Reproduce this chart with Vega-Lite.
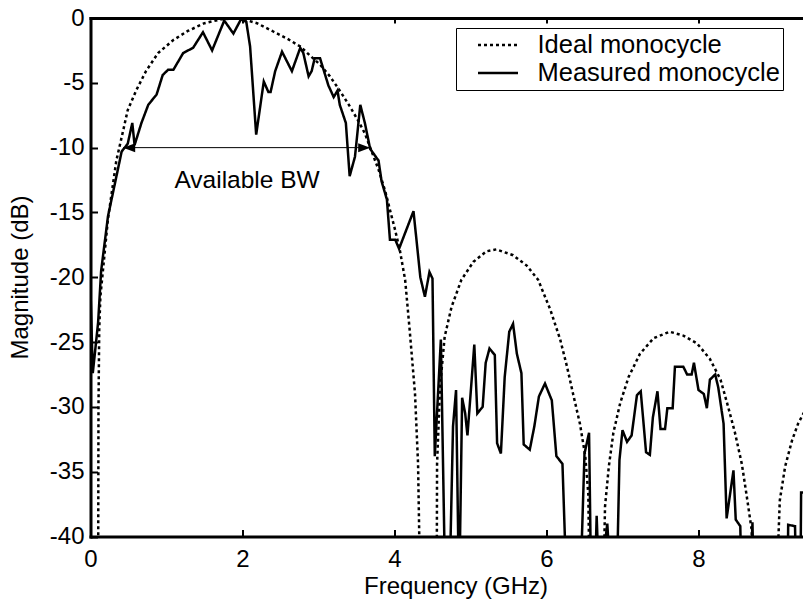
{
  "$schema": "https://vega.github.io/schema/vega-lite/v6.json",
  "autosize": "none",
  "width": 712.5,
  "height": 518.5,
  "padding": {"left": 90.5, "top": 18, "right": 0, "bottom": 65.5},
  "background": "white",
  "config": {
    "font": "Liberation Sans",
    "view": {"stroke": null},
    "axis": {
      "domainColor": "black", "domainWidth": 3, "domainCap": "square",
      "tickColor": "black", "tickWidth": 2, "tickSize": -7,
      "labelFontSize": 24, "labelColor": "black", "labelFont": "Liberation Sans",
      "titleFontSize": 24, "titleFontWeight": "normal", "titleColor": "black", "titleFont": "Liberation Sans",
      "grid": false, "labelFlush": false, "labelOverlap": false
    },
    "axisY": {"labelPadding": 13.5, "titleX": -70, "titleY": 259, "titleBaseline": "middle"},
    "legend": {
      "labelFontSize": 25.5, "labelColor": "black", "labelFont": "Liberation Sans", "labelLimit": 0
    }
  },
  "layer": [
    {
      "data": {"values": [
        {"series": "Measured monocycle", "f": 0.00, "db": -21},
        {"series": "Measured monocycle", "f": 0.03, "db": -27.4},
        {"series": "Measured monocycle", "f": 0.10, "db": -23.5},
        {"series": "Measured monocycle", "f": 0.14, "db": -19.5},
        {"series": "Measured monocycle", "f": 0.23, "db": -15.3},
        {"series": "Measured monocycle", "f": 0.32, "db": -12.8},
        {"series": "Measured monocycle", "f": 0.41, "db": -10.3},
        {"series": "Measured monocycle", "f": 0.49, "db": -9.7},
        {"series": "Measured monocycle", "f": 0.55, "db": -8.1},
        {"series": "Measured monocycle", "f": 0.58, "db": -9.8},
        {"series": "Measured monocycle", "f": 0.67, "db": -8.1},
        {"series": "Measured monocycle", "f": 0.76, "db": -6.7},
        {"series": "Measured monocycle", "f": 0.87, "db": -5.9},
        {"series": "Measured monocycle", "f": 0.95, "db": -4.4},
        {"series": "Measured monocycle", "f": 1.02, "db": -4.0},
        {"series": "Measured monocycle", "f": 1.09, "db": -4.0},
        {"series": "Measured monocycle", "f": 1.22, "db": -2.7},
        {"series": "Measured monocycle", "f": 1.35, "db": -2.3},
        {"series": "Measured monocycle", "f": 1.48, "db": -1.1},
        {"series": "Measured monocycle", "f": 1.60, "db": -2.5},
        {"series": "Measured monocycle", "f": 1.76, "db": -0.2},
        {"series": "Measured monocycle", "f": 1.88, "db": -1.2},
        {"series": "Measured monocycle", "f": 1.98, "db": -0.1},
        {"series": "Measured monocycle", "f": 2.05, "db": -0.3},
        {"series": "Measured monocycle", "f": 2.10, "db": -2.2},
        {"series": "Measured monocycle", "f": 2.18, "db": -9.0},
        {"series": "Measured monocycle", "f": 2.28, "db": -4.9},
        {"series": "Measured monocycle", "f": 2.34, "db": -5.7},
        {"series": "Measured monocycle", "f": 2.37, "db": -5.7},
        {"series": "Measured monocycle", "f": 2.43, "db": -4.1},
        {"series": "Measured monocycle", "f": 2.52, "db": -2.6},
        {"series": "Measured monocycle", "f": 2.65, "db": -4.1},
        {"series": "Measured monocycle", "f": 2.76, "db": -2.3},
        {"series": "Measured monocycle", "f": 2.80, "db": -2.7},
        {"series": "Measured monocycle", "f": 2.87, "db": -4.5},
        {"series": "Measured monocycle", "f": 2.91, "db": -4.1},
        {"series": "Measured monocycle", "f": 2.95, "db": -3.1},
        {"series": "Measured monocycle", "f": 3.02, "db": -3.1},
        {"series": "Measured monocycle", "f": 3.13, "db": -5.2},
        {"series": "Measured monocycle", "f": 3.20, "db": -6.1},
        {"series": "Measured monocycle", "f": 3.25, "db": -5.6},
        {"series": "Measured monocycle", "f": 3.28, "db": -6.7},
        {"series": "Measured monocycle", "f": 3.36, "db": -8.1},
        {"series": "Measured monocycle", "f": 3.41, "db": -12.2},
        {"series": "Measured monocycle", "f": 3.48, "db": -10.7},
        {"series": "Measured monocycle", "f": 3.55, "db": -6.7},
        {"series": "Measured monocycle", "f": 3.61, "db": -8.1},
        {"series": "Measured monocycle", "f": 3.68, "db": -10.1},
        {"series": "Measured monocycle", "f": 3.79, "db": -11.0},
        {"series": "Measured monocycle", "f": 3.83, "db": -12.6},
        {"series": "Measured monocycle", "f": 3.90, "db": -14.0},
        {"series": "Measured monocycle", "f": 3.94, "db": -17.1},
        {"series": "Measured monocycle", "f": 4.01, "db": -17.1},
        {"series": "Measured monocycle", "f": 4.06, "db": -17.8},
        {"series": "Measured monocycle", "f": 4.25, "db": -14.9},
        {"series": "Measured monocycle", "f": 4.34, "db": -20.0},
        {"series": "Measured monocycle", "f": 4.40, "db": -21.5},
        {"series": "Measured monocycle", "f": 4.46, "db": -19.6},
        {"series": "Measured monocycle", "f": 4.50, "db": -20.1},
        {"series": "Measured monocycle", "f": 4.53, "db": -33.8},
        {"series": "Measured monocycle", "f": 4.61, "db": -24.8},
        {"series": "Measured monocycle", "f": 4.67, "db": -45},
        {"series": "Measured monocycle", "f": 4.72, "db": -45},
        {"series": "Measured monocycle", "f": 4.77, "db": -31.5},
        {"series": "Measured monocycle", "f": 4.81, "db": -28.7},
        {"series": "Measured monocycle", "f": 4.85, "db": -45},
        {"series": "Measured monocycle", "f": 4.89, "db": -29.3},
        {"series": "Measured monocycle", "f": 4.93, "db": -30.5},
        {"series": "Measured monocycle", "f": 4.96, "db": -32.2},
        {"series": "Measured monocycle", "f": 5.05, "db": -25.2},
        {"series": "Measured monocycle", "f": 5.09, "db": -30.5},
        {"series": "Measured monocycle", "f": 5.16, "db": -30.0},
        {"series": "Measured monocycle", "f": 5.20, "db": -26.6},
        {"series": "Measured monocycle", "f": 5.25, "db": -25.5},
        {"series": "Measured monocycle", "f": 5.32, "db": -26.0},
        {"series": "Measured monocycle", "f": 5.35, "db": -32.8},
        {"series": "Measured monocycle", "f": 5.40, "db": -33.6},
        {"series": "Measured monocycle", "f": 5.45, "db": -27.7},
        {"series": "Measured monocycle", "f": 5.51, "db": -24.2},
        {"series": "Measured monocycle", "f": 5.56, "db": -23.6},
        {"series": "Measured monocycle", "f": 5.61, "db": -25.9},
        {"series": "Measured monocycle", "f": 5.67, "db": -27.4},
        {"series": "Measured monocycle", "f": 5.70, "db": -32.9},
        {"series": "Measured monocycle", "f": 5.78, "db": -33.3},
        {"series": "Measured monocycle", "f": 5.84, "db": -31.5},
        {"series": "Measured monocycle", "f": 5.90, "db": -29.2},
        {"series": "Measured monocycle", "f": 5.98, "db": -28.2},
        {"series": "Measured monocycle", "f": 6.07, "db": -29.5},
        {"series": "Measured monocycle", "f": 6.13, "db": -33.8},
        {"series": "Measured monocycle", "f": 6.21, "db": -34.4},
        {"series": "Measured monocycle", "f": 6.27, "db": -45},
        {"series": "Measured monocycle", "f": 6.44, "db": -45},
        {"series": "Measured monocycle", "f": 6.50, "db": -33.6},
        {"series": "Measured monocycle", "f": 6.56, "db": -32.0},
        {"series": "Measured monocycle", "f": 6.59, "db": -45},
        {"series": "Measured monocycle", "f": 6.63, "db": -45},
        {"series": "Measured monocycle", "f": 6.66, "db": -38.4},
        {"series": "Measured monocycle", "f": 6.70, "db": -45},
        {"series": "Measured monocycle", "f": 6.76, "db": -41},
        {"series": "Measured monocycle", "f": 6.80, "db": -39.0},
        {"series": "Measured monocycle", "f": 6.86, "db": -45},
        {"series": "Measured monocycle", "f": 6.92, "db": -45},
        {"series": "Measured monocycle", "f": 6.96, "db": -34.1},
        {"series": "Measured monocycle", "f": 7.00, "db": -31.8},
        {"series": "Measured monocycle", "f": 7.06, "db": -32.7},
        {"series": "Measured monocycle", "f": 7.12, "db": -32.2},
        {"series": "Measured monocycle", "f": 7.19, "db": -29.1},
        {"series": "Measured monocycle", "f": 7.24, "db": -28.8},
        {"series": "Measured monocycle", "f": 7.31, "db": -33.5},
        {"series": "Measured monocycle", "f": 7.36, "db": -33.7},
        {"series": "Measured monocycle", "f": 7.40, "db": -30.8},
        {"series": "Measured monocycle", "f": 7.46, "db": -28.8},
        {"series": "Measured monocycle", "f": 7.50, "db": -31.7},
        {"series": "Measured monocycle", "f": 7.56, "db": -31.7},
        {"series": "Measured monocycle", "f": 7.59, "db": -30.1},
        {"series": "Measured monocycle", "f": 7.66, "db": -30.1},
        {"series": "Measured monocycle", "f": 7.69, "db": -26.9},
        {"series": "Measured monocycle", "f": 7.80, "db": -26.9},
        {"series": "Measured monocycle", "f": 7.85, "db": -27.5},
        {"series": "Measured monocycle", "f": 7.91, "db": -27.5},
        {"series": "Measured monocycle", "f": 7.94, "db": -26.6},
        {"series": "Measured monocycle", "f": 8.00, "db": -28.7},
        {"series": "Measured monocycle", "f": 8.07, "db": -29.0},
        {"series": "Measured monocycle", "f": 8.11, "db": -30.1},
        {"series": "Measured monocycle", "f": 8.15, "db": -27.9},
        {"series": "Measured monocycle", "f": 8.22, "db": -27.5},
        {"series": "Measured monocycle", "f": 8.26, "db": -28.5},
        {"series": "Measured monocycle", "f": 8.33, "db": -31.3},
        {"series": "Measured monocycle", "f": 8.37, "db": -38.6},
        {"series": "Measured monocycle", "f": 8.46, "db": -34.9},
        {"series": "Measured monocycle", "f": 8.49, "db": -38.7},
        {"series": "Measured monocycle", "f": 8.55, "db": -39.2},
        {"series": "Measured monocycle", "f": 8.57, "db": -45},
        {"series": "Measured monocycle", "f": 8.68, "db": -45},
        {"series": "Measured monocycle", "f": 8.71, "db": -38.9},
        {"series": "Measured monocycle", "f": 8.73, "db": -45},
        {"series": "Measured monocycle", "f": 9.17, "db": -45},
        {"series": "Measured monocycle", "f": 9.18, "db": -39.1},
        {"series": "Measured monocycle", "f": 9.27, "db": -39.2},
        {"series": "Measured monocycle", "f": 9.29, "db": -45},
        {"series": "Measured monocycle", "f": 9.34, "db": -45},
        {"series": "Measured monocycle", "f": 9.35, "db": -36.6},
        {"series": "Measured monocycle", "f": 9.40, "db": -36.6},
        {"series": "Ideal monocycle", "f": 0.10, "db": -45},
        {"series": "Ideal monocycle", "f": 0.105, "db": -30},
        {"series": "Ideal monocycle", "f": 0.115, "db": -24},
        {"series": "Ideal monocycle", "f": 0.13, "db": -21.5},
        {"series": "Ideal monocycle", "f": 0.23, "db": -15.5},
        {"series": "Ideal monocycle", "f": 0.34, "db": -11.0},
        {"series": "Ideal monocycle", "f": 0.41, "db": -9.2},
        {"series": "Ideal monocycle", "f": 0.49, "db": -7.1},
        {"series": "Ideal monocycle", "f": 0.60, "db": -5.6},
        {"series": "Ideal monocycle", "f": 0.73, "db": -4.1},
        {"series": "Ideal monocycle", "f": 0.89, "db": -2.7},
        {"series": "Ideal monocycle", "f": 1.09, "db": -1.7},
        {"series": "Ideal monocycle", "f": 1.28, "db": -1.0},
        {"series": "Ideal monocycle", "f": 1.50, "db": -0.4},
        {"series": "Ideal monocycle", "f": 1.72, "db": -0.1},
        {"series": "Ideal monocycle", "f": 1.95, "db": 0},
        {"series": "Ideal monocycle", "f": 2.19, "db": -0.4},
        {"series": "Ideal monocycle", "f": 2.41, "db": -1.06},
        {"series": "Ideal monocycle", "f": 2.59, "db": -1.6},
        {"series": "Ideal monocycle", "f": 2.76, "db": -2.2},
        {"series": "Ideal monocycle", "f": 2.89, "db": -2.9},
        {"series": "Ideal monocycle", "f": 3.02, "db": -3.6},
        {"series": "Ideal monocycle", "f": 3.15, "db": -4.5},
        {"series": "Ideal monocycle", "f": 3.28, "db": -5.6},
        {"series": "Ideal monocycle", "f": 3.41, "db": -6.8},
        {"series": "Ideal monocycle", "f": 3.52, "db": -7.9},
        {"series": "Ideal monocycle", "f": 3.61, "db": -8.9},
        {"series": "Ideal monocycle", "f": 3.70, "db": -10.3},
        {"series": "Ideal monocycle", "f": 3.79, "db": -11.7},
        {"series": "Ideal monocycle", "f": 3.88, "db": -13.4},
        {"series": "Ideal monocycle", "f": 3.94, "db": -14.8},
        {"series": "Ideal monocycle", "f": 4.01, "db": -16.4},
        {"series": "Ideal monocycle", "f": 4.07, "db": -17.9},
        {"series": "Ideal monocycle", "f": 4.14, "db": -20.2},
        {"series": "Ideal monocycle", "f": 4.20, "db": -24.1},
        {"series": "Ideal monocycle", "f": 4.27, "db": -29.0},
        {"series": "Ideal monocycle", "f": 4.31, "db": -34.4},
        {"series": "Ideal monocycle", "f": 4.34, "db": -45},
        {"series": "Ideal monocycle", "f": 4.555, "db": -45},
        {"series": "Ideal monocycle", "f": 4.56, "db": -34.4},
        {"series": "Ideal monocycle", "f": 4.60, "db": -28.4},
        {"series": "Ideal monocycle", "f": 4.66, "db": -24.6},
        {"series": "Ideal monocycle", "f": 4.75, "db": -22.3},
        {"series": "Ideal monocycle", "f": 4.88, "db": -20.2},
        {"series": "Ideal monocycle", "f": 5.04, "db": -18.8},
        {"series": "Ideal monocycle", "f": 5.21, "db": -18.0},
        {"series": "Ideal monocycle", "f": 5.34, "db": -17.85},
        {"series": "Ideal monocycle", "f": 5.56, "db": -18.3},
        {"series": "Ideal monocycle", "f": 5.74, "db": -19.1},
        {"series": "Ideal monocycle", "f": 5.89, "db": -20.2},
        {"series": "Ideal monocycle", "f": 6.05, "db": -22.5},
        {"series": "Ideal monocycle", "f": 6.18, "db": -24.8},
        {"series": "Ideal monocycle", "f": 6.27, "db": -26.9},
        {"series": "Ideal monocycle", "f": 6.35, "db": -29.0},
        {"series": "Ideal monocycle", "f": 6.44, "db": -31.3},
        {"series": "Ideal monocycle", "f": 6.51, "db": -33.8},
        {"series": "Ideal monocycle", "f": 6.55, "db": -36.7},
        {"series": "Ideal monocycle", "f": 6.57, "db": -45},
        {"series": "Ideal monocycle", "f": 6.745, "db": -45},
        {"series": "Ideal monocycle", "f": 6.77, "db": -37.7},
        {"series": "Ideal monocycle", "f": 6.82, "db": -34.6},
        {"series": "Ideal monocycle", "f": 6.88, "db": -32.0},
        {"series": "Ideal monocycle", "f": 6.97, "db": -29.7},
        {"series": "Ideal monocycle", "f": 7.08, "db": -27.7},
        {"series": "Ideal monocycle", "f": 7.23, "db": -25.9},
        {"series": "Ideal monocycle", "f": 7.41, "db": -24.7},
        {"series": "Ideal monocycle", "f": 7.62, "db": -24.2},
        {"series": "Ideal monocycle", "f": 7.80, "db": -24.5},
        {"series": "Ideal monocycle", "f": 7.98, "db": -25.1},
        {"series": "Ideal monocycle", "f": 8.15, "db": -26.3},
        {"series": "Ideal monocycle", "f": 8.29, "db": -27.9},
        {"series": "Ideal monocycle", "f": 8.39, "db": -30.0},
        {"series": "Ideal monocycle", "f": 8.48, "db": -32.0},
        {"series": "Ideal monocycle", "f": 8.57, "db": -34.4},
        {"series": "Ideal monocycle", "f": 8.63, "db": -36.7},
        {"series": "Ideal monocycle", "f": 8.70, "db": -39.5},
        {"series": "Ideal monocycle", "f": 8.72, "db": -45},
        {"series": "Ideal monocycle", "f": 9.02, "db": -45},
        {"series": "Ideal monocycle", "f": 9.07, "db": -37.2},
        {"series": "Ideal monocycle", "f": 9.14, "db": -34.6},
        {"series": "Ideal monocycle", "f": 9.23, "db": -32.6},
        {"series": "Ideal monocycle", "f": 9.31, "db": -31.3},
        {"series": "Ideal monocycle", "f": 9.40, "db": -30.3}
      ]},
      "mark": {"type": "line", "clip": true, "color": "black", "strokeWidth": 2.5},
      "encoding": {
        "x": {"field": "f", "type": "quantitative",
              "scale": {"domain": [0, 9.375], "nice": false, "zero": false},
              "axis": {"orient": "bottom", "title": "Frequency (GHz)", "values": [0, 2, 4, 6, 8],
                       "labelPadding": 18, "titleX": 365, "titleY": 57, "titleBaseline": "alphabetic"}},
        "y": {"field": "db", "type": "quantitative",
              "scale": {"domain": [-40, 0], "nice": false, "zero": false},
              "title": "Magnitude (dB)",
              "axis": {"values": [-40, -35, -30, -25, -20, -15, -10, -5, 0], "labelExpr": "toString(datum.value)"}},
        "strokeDash": {"field": "series", "type": "nominal",
              "scale": {"domain": ["Ideal monocycle", "Measured monocycle"], "range": [[3, 3], [1, 0]]},
              "legend": {"title": null, "orient": "none", "legendX": 365.5, "legendY": 10,
                         "symbolType": "stroke", "symbolSize": 1600, "symbolStrokeWidth": 2.5,
                         "symbolStrokeColor": "black", "clipHeight": 28, "rowPadding": 0,
                         "padding": 3, "symbolOffset": 17.5, "labelOffset": 18, "labelLimit": 0,
                         "strokeColor": "black", "fillColor": "white", "cornerRadius": 0}}
      }
    },
    {
      "data": {"values": [{"f": 0.43, "f2": 3.68, "db": -10}]},
      "mark": {"type": "rule", "color": "black", "strokeWidth": 1},
      "encoding": {
        "x": {"field": "f", "type": "quantitative", "axis": null},
        "x2": {"field": "f2"},
        "y": {"field": "db", "type": "quantitative", "title": "Magnitude (dB)"}
      }
    },
    {
      "data": {"values": [{"f": 0.43, "db": -10, "dir": "left"}, {"f": 3.68, "db": -10, "dir": "right"}]},
      "mark": {"type": "point", "filled": true, "color": "black", "opacity": 1, "size": 144},
      "encoding": {
        "x": {"field": "f", "type": "quantitative", "axis": null},
        "y": {"field": "db", "type": "quantitative", "title": "Magnitude (dB)"},
        "shape": {"field": "dir", "type": "nominal",
                  "scale": {"domain": ["left", "right"], "range": ["M0,0L2,-0.75L2,0.75Z", "M0,0L-2,-0.75L-2,0.75Z"]},
                  "legend": null}
      }
    },
    {
      "data": {"values": [{"f": 2.06, "db": -13.1, "label": "Available BW"}]},
      "mark": {"type": "text", "fontSize": 24.5, "font": "Liberation Sans", "color": "black", "align": "center", "baseline": "alphabetic"},
      "encoding": {
        "x": {"field": "f", "type": "quantitative",
              "axis": {"orient": "top", "labels": false, "title": null, "values": [2, 4, 6, 8], "tickSize": -5}},
        "y": {"field": "db", "type": "quantitative", "title": "Magnitude (dB)"},
        "text": {"field": "label"}
      }
    }
  ],
  "resolve": {"axis": {"x": "independent"}}
}
